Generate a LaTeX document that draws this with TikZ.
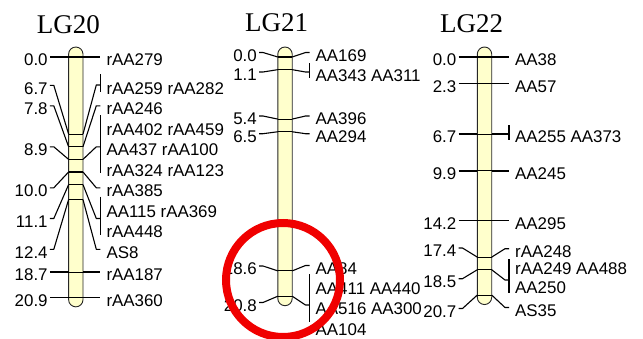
\documentclass[tikz,border=0pt]{standalone}
\usepackage{fontspec}
\setmainfont{Liberation Sans}
\newfontfamily\titlefont{Liberation Serif}
\definecolor{barfill}{RGB}{255,255,204}
\definecolor{circred}{RGB}{240,0,0}
\tikzset{
  lbl/.style={inner sep=0pt, font=\fontsize{16.9}{16.9}\selectfont},
  ttl/.style={inner sep=0pt, anchor=base, font=\titlefont\fontsize{27}{27}\selectfont},
  chrom/.style={draw=black!85, line width=0.9pt, fill=barfill, rounded corners=7.2pt},
  conn/.style={line width=1.1pt, line join=round},
  sconn/.style={line width=1.6pt},
  tick/.style={line width=1.1pt},
  brk/.style={line width=1.6pt},
}
% #1 style, #2 name, #3 bar centre x, #4 tick y, #5 left attach y, #6 right joint y, #7 left text
\newcommand{\mrk}[7][conn]{%
  \node[lbl,anchor=east] (#2) at (#3-28,#5+3) {#7};
  \draw[#1] (#3-26,#5) -- (#3-22,#5) -- (#3-7.2,#4);
  \draw[tick] (#3-7.2,#4) -- (#3+7.2,#4);
  \draw[#1] (#3+7.2,#4) -- (#3+20.5,#6) -- (#3+24.5,#6);
}
\begin{document}
\begin{tikzpicture}[x=1pt,y=-1pt]
\useasboundingbox (0,0) rectangle (643,338);
% titles
\node[ttl] (T20) at (68.3,33) {LG20};
\node[ttl] (T21) at (276.7,31) {LG21};
\node[ttl] (T22) at (471.7,32.5) {LG22};
% chromosome bars
\draw[chrom] (68.6,47) rectangle (83,306.85);
\draw[chrom] (277.8,47) rectangle (292.2,305.7);
\draw[chrom] (477.3,47) rectangle (491.7,304.55);
% ---------- LG20 ----------
\mrk[sconn]{L20a}{75.8}{57}{57}{57}{0.0}
\mrk{L20b}{75.8}{134.05}{85.3}{85}{6.7}
\mrk{L20c}{75.8}{146.7}{105.8}{105.8}{7.8}
\mrk{L20d}{75.8}{159.35}{146.8}{146.8}{8.9}
\mrk{L20e}{75.8}{172}{187.8}{187.8}{10.0}
\mrk{L20f}{75.8}{184.65}{218.5}{218.5}{11.1}
\mrk{L20g}{75.8}{199.6}{249.3}{249.3}{12.4}
\mrk[sconn]{L20h}{75.8}{272.05}{272.05}{272.05}{18.7}
\mrk[sconn]{L20i}{75.8}{297.35}{297.35}{297.35}{20.9}
\draw[brk] (100.3,74) -- (100.3,91.7);
\draw[brk] (100.3,115) -- (100.3,173.3);
\draw[brk] (100.3,196.7) -- (100.3,235);
\node[lbl,anchor=west] (R20a) at (106.3,60) {rAA279};
\node[lbl,anchor=west] (R20b) at (106.3,88.3) {rAA259 rAA282};
\node[lbl,anchor=west] (R20c) at (106.3,108.8) {rAA246};
\node[lbl,anchor=west] (R20d) at (106.3,129.3) {rAA402 rAA459};
\node[lbl,anchor=west] (R20e) at (106.3,149.8) {AA437 rAA100};
\node[lbl,anchor=west] (R20f) at (106.3,170.3) {rAA324 rAA123};
\node[lbl,anchor=west] (R20g) at (106.3,190.8) {rAA385};
\node[lbl,anchor=west] (R20h) at (106.3,211.3) {AA115 rAA369};
\node[lbl,anchor=west] (R20i) at (106.3,231.8) {rAA448};
\node[lbl,anchor=west] (R20j) at (106.3,252.3) {AS8};
\node[lbl,anchor=west] (R20k) at (106.3,275.05) {rAA187};
\node[lbl,anchor=west] (R20l) at (106.3,300.35) {rAA360};
% ---------- LG21 ----------
\mrk{L21a}{285}{57}{52.5}{52.5}{0.0}
\mrk{L21b}{285}{69.65}{72}{72}{1.1}
\mrk{L21c}{285}{119.1}{116}{116}{5.4}
\mrk{L21d}{285}{131.75}{133.7}{133.7}{6.5}
\mrk{L21e}{285}{270.9}{266}{265.5}{18.6}
\mrk{L21f}{285}{296.2}{302.5}{305}{20.8}
\draw[brk] (309.5,63) -- (309.5,78.3);
\draw[brk] (309.5,274.3) -- (309.5,321.7);
\node[lbl,anchor=west] (R21a) at (315.5,55.5) {AA169};
\node[lbl,anchor=west] (R21b) at (315.5,75.5) {AA343 AA311};
\node[lbl,anchor=west] (R21c) at (315.5,119) {AA396};
\node[lbl,anchor=west] (R21d) at (315.5,136.7) {AA294};
\node[lbl,anchor=west] (R21e) at (315.5,268.5) {AA84};
\node[lbl,anchor=west] (R21f) at (315.5,288.3) {AA411 AA440};
\node[lbl,anchor=west] (R21g) at (315.5,308.8) {AA516 AA300};
\node[lbl,anchor=west] (R21h) at (315.5,329.3) {AA104};
% ---------- LG22 ----------
\mrk[sconn]{L22a}{484.5}{57}{57}{57}{0.0}
\mrk[sconn]{L22b}{484.5}{83.45}{83.45}{83.45}{2.3}
\mrk[sconn]{L22c}{484.5}{134.05}{134.05}{134.05}{6.7}
\mrk[sconn]{L22d}{484.5}{170.85}{170.85}{170.85}{9.9}
\mrk[sconn]{L22e}{484.5}{220.3}{220.3}{220.3}{14.2}
\mrk{L22f}{484.5}{257.1}{248}{248.7}{17.4}
\mrk{L22g}{484.5}{269.75}{278.7}{280}{18.5}
\mrk{L22h}{484.5}{295.05}{308.5}{307.5}{20.7}
\draw[brk] (509,125) -- (509,140);
\draw[brk] (509,259.3) -- (509,293.3);
\node[lbl,anchor=west] (R22a) at (515,60) {AA38};
\node[lbl,anchor=west] (R22b) at (515,86.45) {AA57};
\node[lbl,anchor=west] (R22c) at (515,137.05) {AA255 AA373};
\node[lbl,anchor=west] (R22d) at (515,173.85) {AA245};
\node[lbl,anchor=west] (R22e) at (515,223.3) {AA295};
\node[lbl,anchor=west] (R22f) at (515,251.7) {rAA248};
\node[lbl,anchor=west] (R22g) at (515,269) {rAA249 AA488};
\node[lbl,anchor=west] (R22h) at (515,287.5) {AA250};
\node[lbl,anchor=west] (R22i) at (515,310.5) {AS35};
% red highlight circle
\node[draw=circred, line width=8pt, circle, minimum size=114pt, inner sep=0pt] (hl) at (283,280) {};
\end{tikzpicture}
\end{document}
